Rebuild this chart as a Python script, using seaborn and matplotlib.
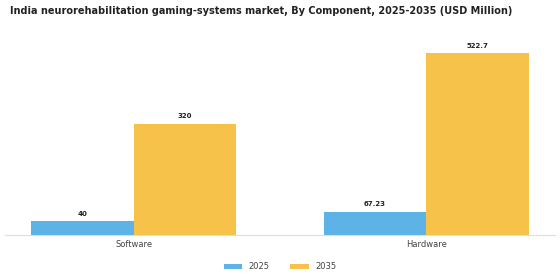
import matplotlib
matplotlib.use("Agg")
import matplotlib.pyplot as plt
import seaborn as sns
import pandas as pd

categories = ["Software", "Hardware"]
years = ["2025", "2035"]
values_2025 = [40, 67.23]
values_2035 = [320, 522.7]
labels_2025 = ["40", "67.23"]
labels_2035 = ["320", "522.7"]

rows = []
for c, v in zip(categories, values_2025):
    rows.append({"Component": c, "Year": "2025", "Value": v})
for c, v in zip(categories, values_2035):
    rows.append({"Component": c, "Year": "2035", "Value": v})
df = pd.DataFrame(rows)

sns.set_theme(style="white")
plt.rcParams['font.family'] = ['DejaVu Sans']

fig = plt.figure(figsize=(5.6, 2.8), dpi=100)
ax = fig.add_axes([0.009, 0.161, 0.982, 0.714])
palette = {"2025": "#5DB3E6", "2035": "#F7C24A"}
sns.barplot(data=df, x="Component", y="Value", hue="Year", order=categories,
            hue_order=years, palette=palette, width=0.7, saturation=1,
            ax=ax, edgecolor="none")

for cont, labs in zip(ax.containers, [labels_2025, labels_2035]):
    ax.bar_label(cont, labels=labs, padding=3, fontsize=5, fontweight="bold", color="#222222")

ax.set_xlim(-0.44, 1.44)
ax.set_ylim(0, 575)
ax.set_xlabel("")
ax.set_ylabel("")
ax.set_yticks([])
ax.tick_params(axis="x", labelsize=6, colors="#444444", length=0, pad=4)
for s in ["top", "right", "left"]:
    ax.spines[s].set_visible(False)
ax.spines["bottom"].set_color("#dddddd")
ax.spines["bottom"].set_linewidth(0.8)

leg = ax.legend(loc="upper center", bbox_to_anchor=(0.5, -0.1), ncol=2, frameon=False,
                fontsize=6, handlelength=2.2, handleheight=0.6, columnspacing=2.5)
for t in leg.get_texts():
    t.set_color("#444444")

fig.suptitle("India neurorehabilitation gaming-systems market, By Component, 2025-2035 (USD Million)",
             x=0.467, y=0.978, fontsize=7.0, fontweight="bold", color="#222222")

fig.savefig("out.png", dpi=100)
